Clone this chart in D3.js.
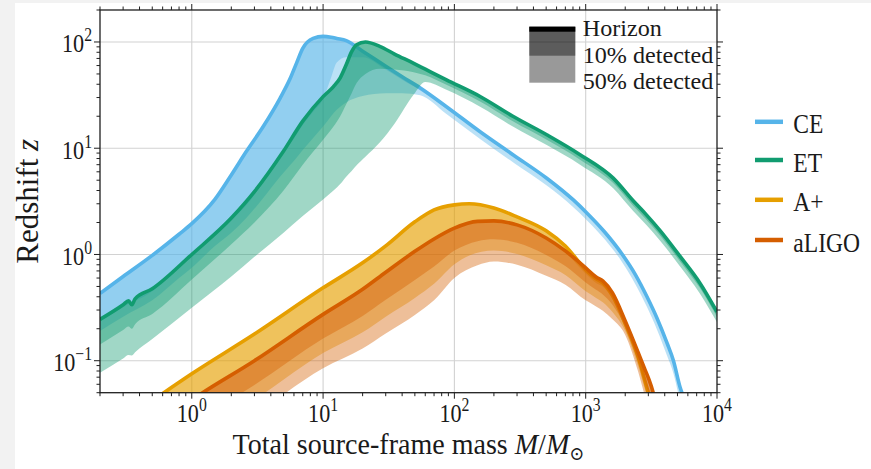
<!DOCTYPE html>
<html>
<head>
<meta charset="utf-8">
<script src="https://cdn.jsdelivr.net/npm/d3@7"></script>
<style>
  html, body { margin: 0; padding: 0; background: #f2f2f2; }
  svg { display: block; }
  text { font-family: "Liberation Serif", "Times New Roman", serif; fill: #1a1a1a; }
</style>
</head>
<body>
<svg id="chart" width="871" height="469"></svg>
<script>
// ---- axis extents and ticks ----
const massDomain = [0.2, 1e4];
const redshiftDomain = [0.05, 200];
const massMajorTicks = [1, 10, 100, 1000, 10000];
const massTickLabels = ["0", "1", "2", "3", "4"];
const redshiftMajorTicks = [0.1, 1, 10, 100];
const redshiftTickLabels = ["\u22121", "0", "1", "2"];

// ---- detector names / colours ----
const detectorNames = ["CE", "ET", "A+", "aLIGO"];
const detectorColors = ["#56B4E9", "#119C70", "#E69F00", "#D55E00"];
const bandNames = ["Horizon", "10% detected", "50% detected"];

// ---- Cosmic Explorer ----
const ceMass = [0.2, 0.3, 0.5, 0.8, 1, 1.5, 2, 2.6, 3.5, 4.7, 5.6, 6.3, 7, 8.4, 10, 11.5, 12.7, 15, 20, 30, 40, 55, 87, 157, 281, 505, 805, 1020, 1400, 1890, 2400, 2930, 3500, 4160, 4660, 5220, 5700];
const ceHorizon = [0.43, 0.62, 0.98, 1.55, 1.95, 3.3, 5.6, 9.3, 16, 29.5, 45, 64, 87, 108, 113, 111, 108, 103, 82, 59, 47, 36.9, 24.6, 14.3, 8.65, 5.22, 3.26, 2.46, 1.62, 1.01, 0.64, 0.40, 0.25, 0.147, 0.10, 0.057, 0.042];
const ceDet10 = [0.235, 0.32, 0.45, 0.78, 0.95, 1.5, 2.1, 2.9, 4.8, 8.2, 11, 13.5, 16.5, 22, 29, 46, 64, 72, 72, 55, 44, 35, 23.6, 13.8, 8.35, 5.05, 3.15, 2.38, 1.56, 0.97, 0.615, 0.385, 0.24, 0.14, 0.096, 0.054, 0.04];
const ceDet50 = [0.19, 0.26, 0.37, 0.6, 0.75, 1.2, 1.6, 2.2, 3.4, 5.4, 6.9, 8.2, 9.6, 12.5, 16, 20, 23, 27, 31, 33, 33, 31.5, 21, 12.2, 7.35, 4.45, 2.78, 2.1, 1.38, 0.85, 0.52, 0.32, 0.195, 0.112, 0.076, 0.043, 0.032];

// ---- Einstein Telescope ----
const etMass = [0.2, 0.3, 0.33, 0.35, 0.37, 0.5, 1, 2, 3, 5, 7, 10, 12, 13.5, 15, 16.5, 18, 21, 27, 35, 49, 60, 87, 157, 281, 505, 906, 1620, 2300, 2900, 3700, 5200, 7400, 10000];
const etHorizon = [0.245, 0.336, 0.366, 0.336, 0.382, 0.475, 1.0, 2.2, 3.9, 9.4, 18, 30.6, 38, 46, 61, 81, 94, 100, 91, 77, 63, 55.5, 44, 30.7, 19.9, 13.4, 8.7, 5.23, 3.2, 2.36, 1.67, 0.97, 0.54, 0.288];
const etDet10 = [0.142, 0.195, 0.21, 0.2, 0.22, 0.275, 0.58, 1.25, 2.0, 4.0, 7.0, 12, 16, 20, 26, 33, 41, 50, 56, 55, 52, 48.5, 39.5, 27.5, 17.8, 12.0, 7.8, 4.7, 2.87, 2.12, 1.5, 0.87, 0.485, 0.258];
const etDet50 = [0.077, 0.105, 0.113, 0.112, 0.12, 0.16, 0.315, 0.62, 0.95, 1.6, 2.3, 3.3, 4.0, 4.6, 5.4, 6.1, 6.9, 8.3, 11.3, 17, 32, 42, 35.5, 24.6, 15.9, 10.7, 7.0, 4.2, 2.56, 1.89, 1.34, 0.78, 0.43, 0.23];

// ---- A+ ----
const apMass = [0.5, 1, 3, 10, 20, 30, 50, 70, 100, 130, 200, 300, 500, 700, 1000, 1200, 1350, 1600, 2000, 2500, 3000, 3300];
const apHorizon = [0.042, 0.0753, 0.178, 0.485, 0.834, 1.205, 2.03, 2.63, 2.93, 3.0, 2.74, 2.26, 1.67, 1.2, 0.72, 0.59, 0.54, 0.41, 0.225, 0.11, 0.05, 0.035];
const apDet10 = [0.024, 0.044, 0.103, 0.28, 0.48, 0.69, 1.09, 1.42, 1.78, 1.97, 2.08, 1.93, 1.46, 1.05, 0.66, 0.54, 0.5, 0.38, 0.2, 0.098, 0.045, 0.031];
const apDet50 = [0.011, 0.0195, 0.043, 0.118, 0.185, 0.26, 0.39, 0.53, 0.81, 0.98, 1.09, 1.01, 0.79, 0.64, 0.45, 0.39, 0.355, 0.287, 0.19, 0.09, 0.042, 0.03];

// ---- Advanced LIGO ----
const alMass = [0.7, 1, 3, 10, 20, 30, 50, 70, 100, 150, 200, 300, 500, 700, 1000, 1200, 1350, 1600, 2000, 2500, 2800, 3000, 3300, 3500];
const alHorizon = [0.031, 0.0427, 0.1, 0.273, 0.47, 0.68, 1.07, 1.40, 1.77, 2.05, 2.07, 1.90, 1.43, 1.08, 0.748, 0.615, 0.564, 0.435, 0.237, 0.121, 0.085, 0.069, 0.0478, 0.034];
const alDet10 = [0.0183, 0.0254, 0.059, 0.1615, 0.264, 0.374, 0.576, 0.769, 1.088, 1.335, 1.392, 1.287, 0.989, 0.777, 0.545, 0.465, 0.421, 0.336, 0.207, 0.1, 0.064, 0.051, 0.036, 0.027];
const alDet50 = [0.0096, 0.0135, 0.031, 0.085, 0.13, 0.18, 0.27, 0.37, 0.60, 0.79, 0.857, 0.80, 0.63, 0.52, 0.37, 0.324, 0.295, 0.245, 0.175, 0.08, 0.048, 0.035, 0.025, 0.02];

const detectors = [
  { mass: ceMass, horizon: ceHorizon, det10: ceDet10, det50: ceDet50 },
  { mass: etMass, horizon: etHorizon, det10: etDet10, det50: etDet50 },
  { mass: apMass, horizon: apHorizon, det10: apDet10, det50: apDet50 },
  { mass: alMass, horizon: alHorizon, det10: alDet10, det50: alDet50 }
].map((d, i) => ({ ...d, name: detectorNames[i], color: detectorColors[i] }));

// ---- layout ----
const W = 871, H = 469;
const plot = { left: 100, right: 717, top: 10, bottom: 392.7 };
const ink = "#1f1f1f";

const x = d3.scaleLog().domain(massDomain).range([plot.left, plot.right]);
const y = d3.scaleLog().domain(redshiftDomain).range([plot.bottom, plot.top]);

const svg = d3.select("#chart");
svg.append("rect").attr("width", W).attr("height", H).attr("fill", "#f2f2f2");
svg.append("rect").attr("x", 15).attr("y", 3).attr("width", W - 15).attr("height", H - 3).attr("fill", "#ffffff");

svg.append("defs").append("clipPath").attr("id", "plotClip")
  .append("rect")
  .attr("x", plot.left).attr("y", plot.top)
  .attr("width", plot.right - plot.left).attr("height", plot.bottom - plot.top);

// grid at the decades
const grid = svg.append("g").attr("stroke", "#d2d2d2").attr("stroke-width", 1.1);
massMajorTicks.filter(v => v < massDomain[1]).forEach(v => {
  grid.append("line").attr("x1", x(v)).attr("x2", x(v)).attr("y1", plot.top).attr("y2", plot.bottom);
});
redshiftMajorTicks.forEach(v => {
  grid.append("line").attr("y1", y(v)).attr("y2", y(v)).attr("x1", plot.left).attr("x2", plot.right);
});

// detection bands and horizon curves
const curves = svg.append("g").attr("clip-path", "url(#plotClip)");
detectors.forEach(det => {
  const pts = det.mass.map((m, i) => ({ m, h: det.horizon[i], z10: det.det10[i], z50: det.det50[i] }));
  const band = low => d3.area()
    .x(d => x(d.m)).y0(d => y(d[low])).y1(d => y(d.h))
    .curve(d3.curveMonotoneX);
  curves.append("path").attr("d", band("z50")(pts))
    .attr("fill", det.color).attr("fill-opacity", 0.4);
  curves.append("path").attr("d", band("z10")(pts))
    .attr("fill", det.color).attr("fill-opacity", 0.4);
  curves.append("path")
    .attr("d", d3.line().x(d => x(d.m)).y(d => y(d.h)).curve(d3.curveMonotoneX)(pts))
    .attr("fill", "none").attr("stroke", det.color)
    .attr("stroke-width", 3.6).attr("stroke-linejoin", "round").attr("stroke-linecap", "butt");
});

// frame
svg.append("rect")
  .attr("x", plot.left).attr("y", plot.top)
  .attr("width", plot.right - plot.left).attr("height", plot.bottom - plot.top)
  .attr("fill", "none").attr("stroke", ink).attr("stroke-width", 1.3);

// ticks on all four sides, pointing outward
function minorTicks(domain) {
  const out = [];
  for (let e = -3; e <= 5; e++) {
    const dec = Math.pow(10, e);
    for (let k = 2; k <= 9; k++) {
      const v = k * dec;
      if (v >= domain[0] * 0.999 && v <= domain[1] * 1.001) out.push(v);
    }
  }
  return out;
}
const ticks = svg.append("g").attr("stroke", ink).attr("stroke-width", 1);
function xTick(v, len) {
  ticks.append("line").attr("x1", x(v)).attr("x2", x(v)).attr("y1", plot.bottom).attr("y2", plot.bottom + len);
  ticks.append("line").attr("x1", x(v)).attr("x2", x(v)).attr("y1", plot.top).attr("y2", plot.top - len);
}
function yTick(v, len) {
  ticks.append("line").attr("y1", y(v)).attr("y2", y(v)).attr("x1", plot.left).attr("x2", plot.left - len);
  ticks.append("line").attr("y1", y(v)).attr("y2", y(v)).attr("x1", plot.right).attr("x2", plot.right + len);
}
massMajorTicks.forEach(v => xTick(v, 6));
minorTicks(massDomain).forEach(v => xTick(v, 3.5));
redshiftMajorTicks.forEach(v => yTick(v, 6));
minorTicks(redshiftDomain).forEach(v => yTick(v, 3.5));

// squeeze a group of labels horizontally so a reference label hits a target width
function squeezeGroups(groups, refGroup, targetWidth) {
  const w = refGroup.node().getBBox().width;
  const s = targetWidth / w;
  groups.forEach(g => g.attr("transform", `translate(${g.datum().tx},${g.datum().ty}) scale(${s},1)`));
}

// power-of-ten tick label
function powerLabel(parent, exp, anchor) {
  const t = parent.append("text").attr("text-anchor", anchor).attr("font-size", 26);
  t.append("tspan").text("10");
  t.append("tspan").attr("font-size", 18.5).attr("dy", -11).text(exp);
  return t;
}

const xLabelGroups = massMajorTicks.map((v, i) => {
  const g = svg.append("g").datum({ tx: x(v), ty: 421.5 });
  powerLabel(g, massTickLabels[i], "middle");
  return g;
});
squeezeGroups(xLabelGroups, xLabelGroups[0], 30);

const yLabelGroups = redshiftMajorTicks.map((v, i) => {
  const g = svg.append("g").datum({ tx: 92, ty: y(v) + 10.5 });
  powerLabel(g, redshiftTickLabels[i], "end");
  return g;
});
squeezeGroups(yLabelGroups, yLabelGroups[3], 30);

// axis titles
const xTitle = svg.append("g");
const xt = xTitle.append("text").attr("text-anchor", "middle").attr("font-size", 29.5);
xt.append("tspan").text("Total source-frame mass ");
xt.append("tspan").attr("font-style", "italic").text("M");
xt.append("tspan").text("/");
xt.append("tspan").attr("font-style", "italic").text("M");
xt.append("tspan").attr("font-size", 19).attr("dy", 6).attr("font-family", "DejaVu Serif").text("\u2299");
{
  const w = xTitle.node().getBBox().width;
  xTitle.attr("transform", `translate(${(plot.left + plot.right) / 2},453.5) scale(${352 / w},1)`);
}

const yTitle = svg.append("text")
  .attr("transform", `translate(38,${(plot.top + plot.bottom) / 2}) rotate(-90)`)
  .attr("text-anchor", "middle").attr("font-size", 31);
yTitle.append("tspan").text("Redshift ");
yTitle.append("tspan").attr("font-style", "italic").text("z");

// detector legend
const legendBaselines = [133.3, 171.5, 211.3, 251.5];
const legendGroups = detectors.map((det, i) => {
  svg.append("line")
    .attr("x1", 755).attr("x2", 783)
    .attr("y1", legendBaselines[i] - 11.5).attr("y2", legendBaselines[i] - 11.5)
    .attr("stroke", det.color).attr("stroke-width", 4.5);
  const g = svg.append("g").datum({ tx: 793.3, ty: legendBaselines[i] });
  g.append("text").attr("font-size", 28).text(det.name);
  return g;
});
squeezeGroups(legendGroups, legendGroups[3], 66.7);

// band legend: horizon strip over stacked translucent patches
const patch = svg.append("g");
patch.append("rect").attr("x", 529.3).attr("y", 26.7).attr("width", 46).attr("height", 56)
  .attr("fill", "#000").attr("fill-opacity", 0.4);
patch.append("rect").attr("x", 529.3).attr("y", 26.7).attr("width", 46).attr("height", 29)
  .attr("fill", "#000").attr("fill-opacity", 0.4);
patch.append("rect").attr("x", 529.3).attr("y", 26.7).attr("width", 46).attr("height", 5)
  .attr("fill", "#000");

const bandBaselines = [36.3, 62.5, 88.5];
const bandGroups = bandNames.map((name, i) => {
  const g = svg.append("g").datum({ tx: 582.7, ty: bandBaselines[i] });
  g.append("text").attr("font-size", 22.5).text(name);
  return g;
});
squeezeGroups(bandGroups, bandGroups[1], 130.7);
</script>
</body>
</html>
